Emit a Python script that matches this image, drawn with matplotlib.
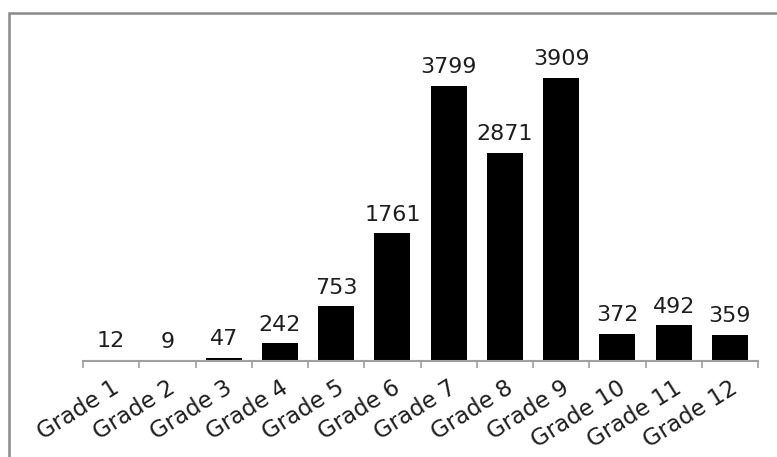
# bar chart: count per grade, black bars with value labels
import matplotlib.pyplot as plt
from matplotlib.patches import Rectangle

grades = ['Grade 1', 'Grade 2', 'Grade 3', 'Grade 4', 'Grade 5', 'Grade 6',
          'Grade 7', 'Grade 8', 'Grade 9', 'Grade 10', 'Grade 11', 'Grade 12']
counts = [12, 9, 47, 242, 753, 1761, 3799, 2871, 3909, 372, 492, 359]

plt.rcParams['font.family'] = ['DejaVu Sans']

fig = plt.figure(figsize=(7.77, 4.57), dpi=100)
# axes placed in pixels of the 777x457 image
ax = fig.add_axes([83 / 777, 1 - 361 / 457, (758 - 83) / 777, 326 / 457])

x = range(len(grades))
bars = ax.bar(x, counts, width=0.64, color='black')
ax.set_xlim(-0.5, len(grades) - 0.5)
ax.set_ylim(0, 4500)

# value labels
for xi, v in zip(x, counts):
    ax.text(xi, v + 120, str(v), ha='center', va='bottom', fontsize=16, color='#1e1e1e')

# only the bottom axis, ticks between categories
for s in ['top', 'right', 'left']:
    ax.spines[s].set_visible(False)
ax.spines['bottom'].set_color('#a0a0a0')
ax.spines['bottom'].set_linewidth(1.5)
ax.set_yticks([])
ax.set_xticks([i - 0.5 for i in range(len(grades) + 1)], minor=True)
ax.tick_params(axis='x', which='minor', length=5, width=1.2, color='#a0a0a0')
ax.set_xticks(list(x))
ax.tick_params(axis='x', which='major', length=0, pad=11)
ax.set_xticklabels(grades, rotation=32, ha='right', va='top', rotation_mode='anchor',
                   fontsize=16.5, color='#1e1e1e')

# gray frame around the chart (cut at right and bottom)
fig.patches.append(Rectangle((9 / 777, -0.1), 1.2, 1 - 13 / 457 + 0.1,
                             transform=fig.transFigure, fill=False,
                             edgecolor='#8a8a8a', linewidth=1.8))

fig.savefig('out.png', dpi=100)
